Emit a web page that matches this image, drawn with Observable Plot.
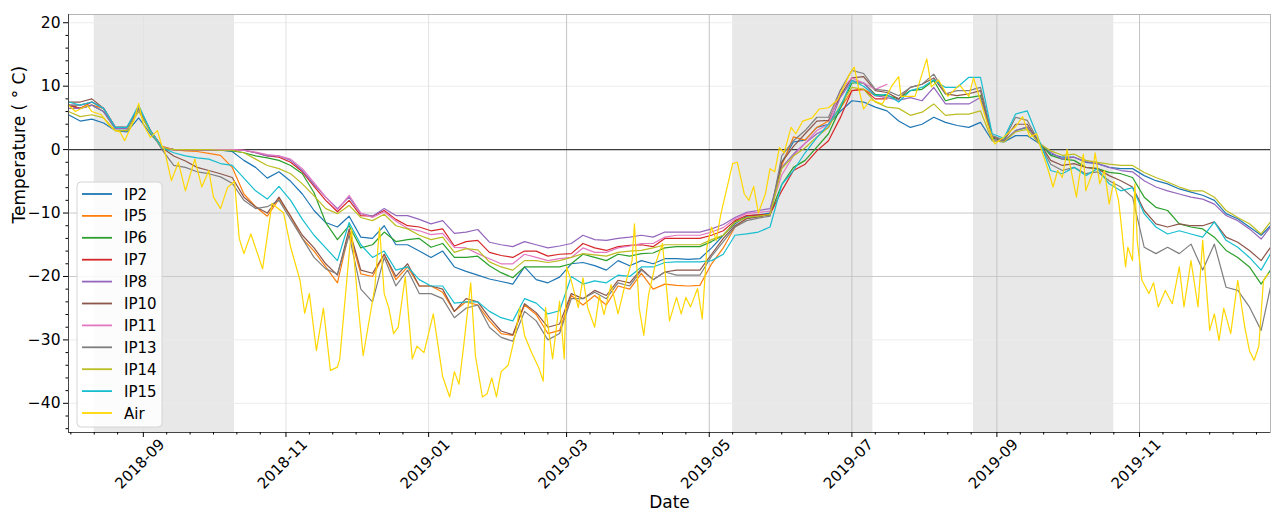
<!DOCTYPE html>
<html><head><meta charset="utf-8">
<script src="https://cdn.jsdelivr.net/npm/d3@7"></script>
<script src="https://cdn.jsdelivr.net/npm/@observablehq/plot@0.6"></script>
<style>body{margin:0;background:#fff;} svg{display:block}</style>
</head><body><div id="chart"></div>
<script>
// ---------- DATA ----------
const dates = ["2018-07-31","2018-08-05","2018-08-10","2018-08-15","2018-08-20","2018-08-25","2018-08-30",
"2018-09-04","2018-09-09","2018-09-14","2018-09-19","2018-09-24","2018-09-29",
"2018-10-04","2018-10-09","2018-10-14","2018-10-19","2018-10-24","2018-10-29",
"2018-11-03","2018-11-08","2018-11-13","2018-11-18","2018-11-23","2018-11-28",
"2018-12-03","2018-12-08","2018-12-13","2018-12-18","2018-12-23","2018-12-28",
"2019-01-02","2019-01-07","2019-01-12","2019-01-17","2019-01-22","2019-01-27",
"2019-02-01","2019-02-06","2019-02-11","2019-02-16","2019-02-21","2019-02-26",
"2019-03-03","2019-03-08","2019-03-13","2019-03-18","2019-03-23","2019-03-28",
"2019-04-02","2019-04-07","2019-04-12","2019-04-17","2019-04-22","2019-04-27",
"2019-05-02","2019-05-07","2019-05-12","2019-05-17","2019-05-22","2019-05-27",
"2019-06-01","2019-06-06","2019-06-11","2019-06-16","2019-06-21","2019-06-26",
"2019-07-01","2019-07-06","2019-07-11","2019-07-16","2019-07-21","2019-07-26","2019-07-31",
"2019-08-05","2019-08-10","2019-08-15","2019-08-20","2019-08-25","2019-08-30",
"2019-09-04","2019-09-09","2019-09-14","2019-09-19","2019-09-24","2019-09-29",
"2019-10-04","2019-10-09","2019-10-14","2019-10-19","2019-10-24","2019-10-29",
"2019-11-03","2019-11-08","2019-11-13","2019-11-18","2019-11-23","2019-11-28",
"2019-12-03","2019-12-08","2019-12-13","2019-12-18","2019-12-23","2019-12-27"];

const IP2 = [5.5,4.5,4.8,4.2,3.0,2.8,5.0,2.5,0.4,0,
0,0,0,-0.1,-0.3,-1.7,-2.8,-4.5,-3.5,-5,
-7,-9.6,-11.5,-12.2,-10.5,-13.8,-14,-12,-15,-15,
-16,-17,-16,-18.5,-19.2,-19.8,-20.4,-20.8,-21.2,-18.5,
-20.5,-21,-20.1,-18,-17.8,-18.3,-19,-17.5,-18.3,-17.5,
-18,-17.2,-17.2,-17.3,-17.2,-15.5,-13.5,-11.7,-10.5,-10.3,
-10,-2,1.2,1.5,3.5,4,6,7.7,7.5,6.7,
6.1,4.5,3.5,4,5.1,4.3,3.8,3.5,4.3,1.4,
1.2,2.2,2.2,1.0,-0.7,-1.2,-1.2,-2.0,-2.2,-2.8,
-3.0,-3.0,-4.1,-4.9,-5.4,-6.2,-6.7,-7.2,-8,-10.1,
-10.9,-12.2,-13.5,-12];

const IP5 = [7,6.5,7,6.5,3.5,3.5,6.5,3,0.5,0,
-0.2,-0.3,-0.6,-0.9,-2.8,-7,-9,-10.5,-7.8,-10.5,
-14,-16,-18.5,-21,-13,-19.6,-20,-16.5,-20.5,-18.5,
-21.5,-21.5,-22.5,-25.5,-24,-24.5,-27,-29,-29.3,-24.5,
-26,-29,-28.5,-23,-24.5,-23,-24.5,-21.5,-22,-19.5,
-22,-21.2,-21.4,-21.5,-21.4,-18,-15.5,-12.2,-10.8,-10.5,
-10.2,-2.5,2,1.5,3.5,4.5,6.5,9.3,9.5,8.5,8.5,
null,null,null,null,null,null,null,null,null,null,
null,null,null,null,null,null,null,null,null,null,
null,null,null,null,null,null,null,null,null,null,
null,null,null];

const IP6 = [7,6.5,7,6,3.3,3.3,6.5,3,0.3,0,
0,0,0,-0.1,-0.2,-0.5,-1,-1.3,-1.7,-2.5,
-3.8,-6.8,-11.5,-14.2,-12,-15.5,-15,-13,-14.5,-14.2,
-14,-15.4,-14.8,-17,-17,-16.8,-18.3,-19.4,-20.2,-18.5,
-18.5,-18.5,-18.5,-18,-16.5,-17,-17.5,-16.5,-16.8,-16.4,
-16.3,-15.5,-15.3,-15.3,-15.3,-14.5,-13.5,-11.4,-10.7,-10.5,
-10.2,-5.5,-2.8,-1.7,0.4,2.5,6.5,10.5,10.5,8.7,
8.5,8,9.3,9.5,10.9,7.7,8.2,8.2,8.5,1.8,
1.3,3,3.5,1.2,-0.9,-1.5,-1.7,-2.8,-3,-3.6,
-3.8,-4.4,-7.5,-9.1,-9.6,-11.7,-12.2,-12.5,-13.8,-15.9,
-17,-18.5,-21.2,-19];

const IP7 = [7,6.5,7.5,6.5,3.5,3.3,6.5,3,0.3,0,
0,0,0,0,0,-0.1,-0.5,-1,-1.2,-2,
-3.5,-5.8,-8,-9.8,-8,-10.4,-10.5,-9.6,-11,-12,
-12.2,-12.8,-12.5,-15.2,-14.5,-14.3,-16.2,-16.7,-17,-16,
-16,-16.8,-16.5,-16.4,-14.8,-15.5,-15.9,-15.3,-15.1,-15,
-15.3,-14,-14,-14,-14,-13.5,-12.8,-11.2,-10.4,-10.3,
-10.2,-6.5,-3.3,-2.3,-0.2,1.4,5,9.3,9.5,8,8,
null,null,null,null,null,null,null,null,null,null,
null,null,null,null,null,null,null,null,null,null,
null,null,null,null,null,null,null,null,null,null,
null,null,null];

const IP8 = [6.5,6.5,7,6,3.3,3.3,6.5,3,0.3,0,
0,0,0,0,0,-0.1,-0.5,-1,-1,-1.7,
-3.3,-5.5,-7.5,-9.3,-7.5,-10.1,-10.5,-9.3,-10.4,-10.4,
-11,-11.7,-11.2,-13.2,-13,-12.6,-14.6,-15,-15.3,-14.5,
-15,-15.5,-15.2,-14.8,-13.5,-14.2,-14.3,-14,-13.8,-13.5,
-13.8,-13,-13,-13,-13,-12.5,-11.8,-10.7,-9.9,-9.6,
-9.3,-2.8,-0.7,1,2.5,3.5,8.2,10.9,10.5,8.5,
8.2,7.8,8.2,7.7,9.8,7.2,7.2,7.2,8.2,1.6,
1.3,3,3.6,1.1,-0.4,-1.5,-1.2,-1.9,-2.2,-2.8,
-3.3,-3.5,-4.9,-5.9,-6.5,-7,-7.5,-7.8,-8.6,-10.4,
-11.2,-12.5,-14.1,-12.2];

const IP10 = [7.5,7.5,8,6.5,3.5,3.5,6.5,3,0.3,-1,
-1.8,-2.8,-3.3,-3.8,-4.4,-7.5,-9,-10,-7.5,-10.5,
-13.5,-15.5,-18,-19.8,-12.5,-19,-19.5,-16.5,-20,-18,
-21.5,-21.5,-22,-25.5,-23.5,-24,-26.5,-28.6,-29.2,-24.3,
-25.7,-28,-27.5,-22.7,-23.5,-22.2,-23,-20.6,-21,-18.8,
-20.5,-19.3,-19,-19,-19,-16.5,-14,-12,-10.9,-10.6,
-10.3,-2,0.5,2.5,4.5,4.6,8.5,11.3,11.5,9.3,
9,8,9.8,10.3,11.3,8.8,8.5,8.8,9.3,2,
1.5,4,4,1.2,-1.7,-2.5,-2.2,-2.8,-3,-4.1,
-4.9,-5.9,-9.6,-11.7,-12.2,-11.7,-12,-12,-11.4,-13.8,
-14.6,-15.9,-17.5,-15.4];

const IP11 = [7,7,7.5,6.5,3.5,3.5,6.5,3,0.3,0,
0,0,0,0,0,-0.1,-0.4,-0.8,-1,-1.5,
-3,-5.2,-7.5,-9.5,-7.2,-10,-10.7,-9.8,-11.3,-12.4,
-12.8,-13.4,-13.2,-15.4,-15.5,-16.4,-17.2,-18,-18,-16.5,
-17,-17.5,-17.2,-17,-15.5,-16.2,-16.2,-15.5,-15.2,-14.8,
-14.8,-13.8,-13.5,-13.5,-13.5,-13,-12.3,-10.9,-10.1,-9.9,
-9.7,-4,-1,1,3,4,9.3,11.3,10.5,9.5,10.3,
null,null,null,null,null,null,null,null,null,null,
null,null,null,null,null,null,null,null,null,null,
null,null,null,null,null,null,null,null,null,null,
null,null,null];

const IP13 = [7,7,7.5,6.5,3.5,3.5,6.5,3,0,-2.5,
-2.8,-3.5,-3.8,-4.3,-5.3,-8,-9.3,-9,-8,-11,
-14,-17,-18.8,-19.6,-13.5,-22,-24,-17,-21.5,-19,
-22.7,-22.7,-23.5,-26.5,-25,-24.5,-28,-29.6,-30.2,-25.5,
-27,-30,-29,-23.5,-23.5,-22.5,-23.5,-21,-21.5,-19,
-20.5,-19.3,-19.8,-19.8,-19.8,-16.8,-14.5,-12.2,-11.2,-10.8,
-10.5,-1,1.4,3,5.1,5.1,9.3,12.5,12,9.5,
9.3,8.5,9.8,10.3,11.9,8.8,9.3,9.3,9.8,2.2,
1.5,5.1,4.6,1.2,-2.3,-3.3,-2.8,-3.8,-3.5,-4.9,
-5.9,-7.5,-15.4,-16.4,-15.4,-16.4,-14.9,-19,-14.9,-21.7,
-22.2,-24.8,-28.5,-21.7];

const IP14 = [6,5.2,5.5,5,3,3,6,2.8,0.3,0,
0,0,0,-0.1,-0.1,-0.5,-1.5,-2.5,-3,-3.8,
-5.4,-7.3,-9.3,-10.1,-8.8,-10.7,-11.2,-10.2,-12,-12.5,
-13.5,-14.2,-13.8,-16.2,-15.6,-15.8,-17.7,-18.5,-19,-17.5,
-17.5,-17.8,-17.5,-17,-16.4,-16.6,-16.8,-16.2,-16,-15.9,
-15.5,-15,-15,-15,-15,-14.2,-13.5,-11.5,-10.7,-10.5,
-10.2,-3,-1,0.3,2,3.5,7,9.8,9.5,7.5,
6.7,6.5,5.4,5.9,7.2,5.4,5.6,5.6,6.1,1.4,
1.2,2.8,3.2,1.0,-0.2,-0.9,-0.7,-1.7,-2,-2.3,
-2.5,-2.5,-3.6,-4.4,-5.1,-5.9,-6.5,-6.5,-7.5,-9.6,
-10.7,-11.7,-13.3,-11.4];

const IP15 = [7.5,7,7.5,6.5,3.5,3.5,7,3,0.3,-0.5,
-1,-1.3,-1.5,-2.2,-2.5,-4.5,-6.5,-7.8,-5.8,-8,
-11,-13.5,-15.5,-17.5,-11.5,-15,-17,-16,-19,-18.5,
-20.5,-21.5,-21.5,-24.2,-24,-24,-25.5,-26.5,-27,-23.5,
-24.2,-25.9,-25.4,-20,-21.2,-20.7,-21,-19.8,-20,-18.5,
-18.5,-17.8,-17.7,-17.7,-17.7,-17.5,-16.5,-13.5,-13.3,-13,
-12.2,-5.5,-3.3,-0.5,1.9,4,6.7,10.9,10,8.5,
8.7,7.5,9.3,9.8,11,9.8,9.8,11.4,11.4,2.5,
1.8,5.6,6.1,1.5,-3.3,-3.8,-2.8,-4.1,-3,-5.4,
-6.5,-6,-10.1,-12.2,-13.3,-12.8,-13.3,-13.8,-11.4,-14.3,
-15.4,-17,-19,-16.4];

const airDates = ["2018-07-31","2018-08-03","2018-08-08","2018-08-10","2018-08-14","2018-08-17","2018-08-20","2018-08-22","2018-08-24","2018-08-26","2018-08-28","2018-08-30",
"2018-09-01","2018-09-04","2018-09-07","2018-09-09","2018-09-10","2018-09-13","2018-09-16","2018-09-19","2018-09-23","2018-09-26","2018-09-29",
"2018-10-01","2018-10-04","2018-10-07","2018-10-10","2018-10-12","2018-10-14","2018-10-17","2018-10-22","2018-10-26","2018-10-31",
"2018-11-03","2018-11-07","2018-11-09","2018-11-11","2018-11-14","2018-11-17","2018-11-20","2018-11-23","2018-11-24","2018-11-27","2018-11-29",
"2018-12-02","2018-12-04","2018-12-09","2018-12-11","2018-12-13","2018-12-15","2018-12-17","2018-12-19","2018-12-22","2018-12-25","2018-12-27","2018-12-30",
"2019-01-03","2019-01-07","2019-01-10","2019-01-12","2019-01-14","2019-01-16","2019-01-19","2019-01-21","2019-01-24","2019-01-26","2019-01-28","2019-01-30",
"2019-02-01","2019-02-04","2019-02-07","2019-02-09","2019-02-11","2019-02-14","2019-02-17","2019-02-19","2019-02-20","2019-02-23","2019-02-26","2019-02-28",
"2019-03-01","2019-03-03","2019-03-06","2019-03-08","2019-03-10","2019-03-13","2019-03-15","2019-03-17","2019-03-20","2019-03-23","2019-03-26","2019-03-29","2019-03-30",
"2019-04-01","2019-04-03","2019-04-05","2019-04-08","2019-04-11","2019-04-14","2019-04-17","2019-04-19","2019-04-21","2019-04-23","2019-04-26","2019-04-28","2019-04-30",
"2019-05-02","2019-05-04","2019-05-06","2019-05-11","2019-05-13","2019-05-16","2019-05-18","2019-05-20","2019-05-22","2019-05-25","2019-05-27","2019-05-29","2019-05-31",
"2019-06-02","2019-06-05","2019-06-07","2019-06-10","2019-06-14","2019-06-17","2019-06-21","2019-06-25","2019-06-30",
"2019-07-02","2019-07-04","2019-07-06","2019-07-09","2019-07-14","2019-07-18","2019-07-21","2019-07-22","2019-07-28",
"2019-08-02","2019-08-04","2019-08-07","2019-08-11","2019-08-16","2019-08-20","2019-08-22","2019-08-25","2019-08-28","2019-08-31",
"2019-09-04","2019-09-09","2019-09-12","2019-09-15","2019-09-18","2019-09-20","2019-09-23","2019-09-25","2019-09-27","2019-09-29",
"2019-10-01","2019-10-03","2019-10-05","2019-10-06","2019-10-08","2019-10-09","2019-10-12","2019-10-13","2019-10-15","2019-10-17","2019-10-19","2019-10-21","2019-10-23","2019-10-24","2019-10-26","2019-10-27","2019-10-29","2019-10-30","2019-10-31",
"2019-11-02","2019-11-05","2019-11-07","2019-11-09","2019-11-12","2019-11-15","2019-11-18","2019-11-20","2019-11-23","2019-11-26","2019-11-28",
"2019-12-01","2019-12-03","2019-12-05","2019-12-07","2019-12-10","2019-12-13","2019-12-16","2019-12-18","2019-12-20","2019-12-22","2019-12-24","2019-12-26"];

const airTemp = [7,6,7,6,5.5,4,3,2.8,1.4,3,4.6,7.3,
4,1.9,3,0.5,0,-4.9,-2,-6.5,-1.5,-5.9,-3.3,
-7.5,-9.3,-6,-5,-14,-16.4,-13.3,-18.8,-8.5,-10,
-15.4,-20.6,-25.8,-22.7,-31.7,-25,-34.8,-34.3,-33,-20.6,-12.5,
-25,-32.5,-21.7,-12.3,-22.7,-25,-29,-28,-20,-33,-31,-32,
-25.9,-35.8,-39,-35,-37,-30.9,-21,-32.5,-39,-38.5,-36,-39,
-35,-34,-29.3,-24.9,-29.3,-32,-34.3,-36.5,-24.9,-33,-23.9,-33,
-18.5,-20.7,-24.9,-20.2,-24.9,-28,-23,-26,-21.3,-25.9,-21.3,-17.5,-11.7,
-24.9,-29.3,-23,-18,-14.8,-27,-23.3,-25.9,-23.3,-24.8,-21.9,-26.7,-15.4,
-12.2,-14.3,-10.1,-2.2,-2,-7,-8,-5.8,-10,-7,-3,-3.5,0.3,
-0.5,3.5,2.5,4.5,5,6.4,6.6,7.9,11.9,
13,9.5,6.4,7.9,7.2,10,11.5,8.4,8.4,
14.3,9.9,11,8.4,10.2,8.4,11.3,7.7,4,0.9,
2,3.6,5.2,2,2.5,0,-3.3,-5.9,-3.3,-4.4,
0,-3.8,-7.5,-4.9,-0.7,-6.5,-3.5,-0.5,-5.4,-3.3,-8.6,-5,-8,-11.2,-18.5,-15.4,-17.5,-5.4,-14.3,
-20.6,-22.7,-21,-24.8,-22.2,-24.3,-18.5,-24.8,-17.5,-24.8,-14.3,
-28.5,-25.9,-30.1,-25,-29,-20.6,-28,-31.7,-33.2,-31,-20.6,-19.6];

const seriesNames = ["IP2","IP5","IP6","IP7","IP8","IP10","IP11","IP13","IP14","IP15","Air"];
const seriesColors = ["#1f77b4","#ff7f0e","#2ca02c","#d62728","#9467bd","#8c564b","#e377c2","#7f7f7f","#bcbd22","#17becf","#ffd700"];
const shadeStart = ["2018-08-11","2019-05-11","2019-08-22"];
const shadeEnd = ["2018-10-10","2019-07-10","2019-10-21"];
const yTicks = [-40,-30,-20,-10,0,10,20];
const xTickDates = ["2018-09-01","2018-11-01","2019-01-01","2019-03-01","2019-05-01","2019-07-01","2019-09-01","2019-11-01"];
const xTickLabels = ["2018-09","2018-11","2019-01","2019-03","2019-05","2019-07","2019-09","2019-11"];
const yLabel = "Temperature ( ° C)";
const xLabel = "Date";

// ---------- BUILD ----------
const parse = d3.utcParse("%Y-%m-%d");
const ipSeries = [IP2, IP5, IP6, IP7, IP8, IP10, IP11, IP13, IP14, IP15];
const rows = [];
ipSeries.forEach((vals, k) => vals.forEach((v, i) => {
  if (v != null) rows.push({series: seriesNames[k], date: parse(dates[i]), value: v});
}));
airDates.forEach((d, i) => rows.push({series: "Air", date: parse(d), value: airTemp[i]}));

const xDomain = [parse("2018-07-31"), parse("2019-12-27")];
const yDomain = [-44.6, 21.3];
const majorX = xTickDates.map(parse);
const minorX = d3.utcDay.range(xDomain[0], xDomain[1])
  .filter(d => [1, 11, 21].includes(d.getUTCDate()) && !majorX.some(m => +m === +d));
const minorY = d3.range(-44, 21, 2).filter(v => v % 10 !== 0);
const shades = shadeStart.map((s, i) => ({x1: parse(s), x2: parse(shadeEnd[i]), y1: yDomain[0], y2: yDomain[1]}));
const lightY = [-40, -30, 10, 20], darkY = [-20, -10];
const lightX = majorX.slice(0, 3), darkX = majorX.slice(3);

const chart = Plot.plot({
  width: 1271, height: 519,
  marginLeft: 68, marginRight: 1, marginTop: 14, marginBottom: 87,
  style: {fontFamily: "DejaVu Sans, sans-serif", fontSize: "15px", background: "#fff", overflow: "visible"},
  x: {type: "utc", domain: xDomain},
  y: {domain: yDomain},
  color: {domain: seriesNames, range: seriesColors},
  marks: [
    Plot.rect(shades, {x1: "x1", x2: "x2", y1: "y1", y2: "y2", fill: "#e8e8e8"}),
    Plot.ruleY(lightY, {stroke: "#ececec"}),
    Plot.ruleY(darkY, {stroke: "#c9c9c9"}),
    Plot.ruleX(lightX, {stroke: "#e2e2e2"}),
    Plot.ruleX(darkX, {stroke: "#c4c4c4"}),
    Plot.ruleY([0], {stroke: "#3a3a3a", strokeWidth: 1.4}),
    Plot.line(rows, {x: "date", y: "value", z: "series", stroke: "series", strokeWidth: 1.2}),
    Plot.frame({stroke: "#b5b5b5"}),
    Plot.ruleX([xDomain[0]], {stroke: "#444"}),
    Plot.ruleY([yDomain[0]], {stroke: "#444"}),
    Plot.axisY({ticks: yTicks, tickSize: 5, tickPadding: 3, label: null, fontSize: 15.5}),
    Plot.axisY({ticks: minorY, tickSize: 2.5, tickFormat: () => "", label: null}),
    Plot.axisX({ticks: majorX, tickSize: 5, tickFormat: () => "", label: null}),
    Plot.axisX({ticks: minorX, tickSize: 2.5, tickFormat: () => "", label: null}),
    Plot.text(majorX, {x: d => d, text: (d, i) => xTickLabels[i], frameAnchor: "bottom", rotate: -45, dy: 35, fontSize: 15}),
    Plot.text([yLabel], {frameAnchor: "left", dx: -49, rotate: -90, fontSize: 17}),
    Plot.text([xLabel], {frameAnchor: "bottom", dy: 75, fontSize: 17})
  ]
});

// legend (upper-left inside the plot area, matplotlib style)
const svg = d3.select(chart);
const lg = svg.append("g").attr("font-family", "DejaVu Sans, sans-serif").attr("font-size", 15)
  .attr("text-anchor", "start");
lg.append("rect").attr("x", 77).attr("y", 182).attr("width", 85).attr("height", 245)
  .attr("rx", 4).attr("fill", "rgba(255,255,255,0.85)").attr("stroke", "#d4d4d4");
seriesNames.forEach((name, i) => {
  const cy = 194 + i * 21.9;
  lg.append("line").attr("x1", 82).attr("x2", 112).attr("y1", cy).attr("y2", cy)
    .attr("stroke", seriesColors[i]).attr("stroke-width", 1.8);
  lg.append("text").attr("x", 124).attr("y", cy + 5.5).attr("text-anchor", "start")
    .attr("fill", "#000").text(name);
});

document.getElementById("chart").appendChild(chart);
</script>
</body></html>
